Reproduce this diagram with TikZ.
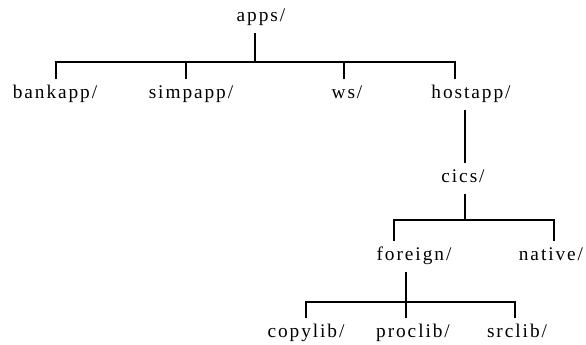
\documentclass[tikz,border=0pt]{standalone}
\usepackage{fontspec}
\setmainfont[LetterSpace=10]{Liberation Serif}
\begin{document}
\begin{tikzpicture}[x=0.75pt,y=-0.75pt,
  dir/.style={inner xsep=0pt,inner ysep=5pt,anchor=base,text height=9.5pt,text depth=3pt,font=\fontsize{14.5pt}{16pt}\selectfont},
  conn/.style={line width=0.8pt,black}]
\useasboundingbox (0,0) rectangle (586,345);
\node[dir] (apps) at (261,22) {apps/};
\node[dir] (bankapp) at (55,99) {bankapp/};
\node[dir] (simpapp) at (191,99) {simpapp/};
\node[dir] (ws) at (347,99) {ws/};
\node[dir] (hostapp) at (471,99) {hostapp/};
\node[dir] (cics) at (463,183) {cics/};
\node[dir] (foreign) at (414,261) {foreign/};
\node[dir] (native) at (551,261) {native/};
\node[dir] (copylib) at (306,338) {copylib/};
\node[dir] (proclib) at (413,338) {proclib/};
\node[dir] (srclib) at (517,338) {srclib/};
\coordinate (jA) at (255,62);
\coordinate (jC) at (465,220);
\coordinate (jF) at (406,302);
% apps
\draw[conn] (apps.south -| jA) -- (jA);
\draw[conn] ([xshift=0.75pt]bankapp.north) |- (jA);
\draw[conn] ([xshift=-3.75pt]simpapp.north) |- (jA);
\draw[conn] ([xshift=-2.25pt]ws.north) |- (jA);
\draw[conn] ([xshift=-12pt]hostapp.north) |- (jA);
% hostapp -> cics
\draw[conn] (hostapp.south -| jC) -- (cics.north -| jC);
% cics
\draw[conn] (cics.south -| jC) -- (jC);
\draw[conn] ([xshift=-15pt]foreign.north) |- (jC);
\draw[conn] ([xshift=2.25pt]native.north) |- (jC);
% foreign
\draw[conn] (foreign.south -| jF) -- (jF);
\draw[conn] (copylib.north) |- (jF);
\draw[conn] (proclib.north -| jF) -- (jF);
\draw[conn] ([xshift=-1.5pt]srclib.north) |- (jF);
\end{tikzpicture}
\end{document}
